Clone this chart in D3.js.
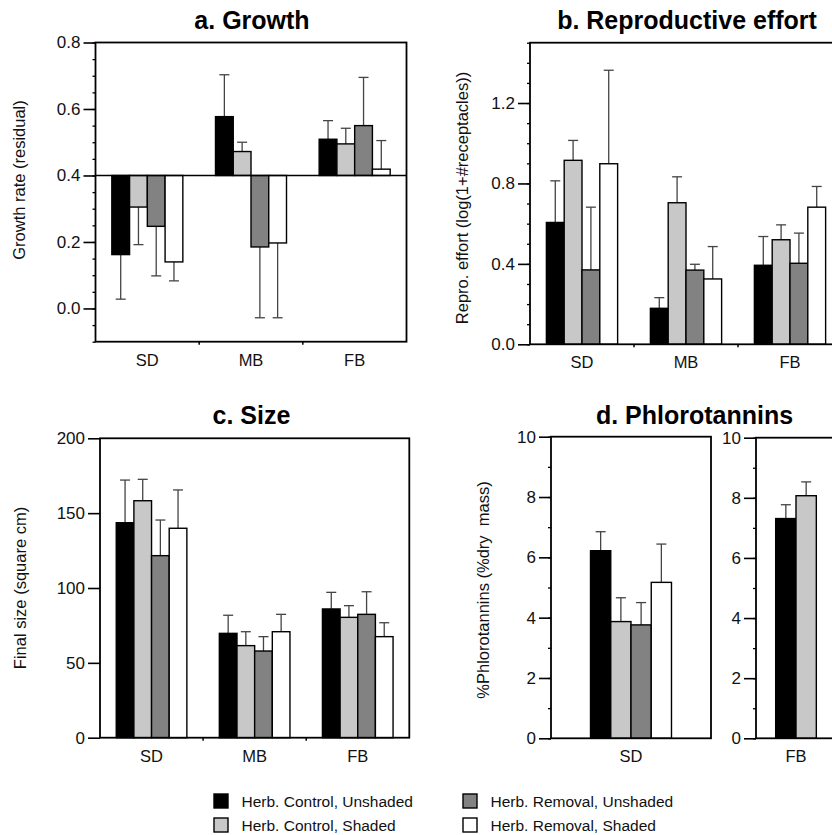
<!DOCTYPE html>
<html>
<head>
<meta charset="utf-8">
<script src="https://cdn.jsdelivr.net/npm/d3@7"></script>
<style>
  body { margin: 0; background: #fff; }
  svg { display: block; font-family: "Liberation Sans", Arial, Helvetica, sans-serif; }
</style>
</head>
<body>
<div id="chart"></div>
<script>
// treatments in legend order, and their fills
const treatments = ["Herb. Control, Unshaded", "Herb. Control, Shaded",
                    "Herb. Removal, Unshaded", "Herb. Removal, Shaded"];
const fills = ["#000000", "#c8c8c8", "#828282", "#ffffff"];
const sites = ["SD", "MB", "FB"];

// a. Growth (residual), bars hang from 0.4
const growthTicks = [0, 0.2, 0.4, 0.6, 0.8];
const growthMean = [[0.162, 0.305, 0.247, 0.140],
                    [0.577, 0.472, 0.185, 0.197],
                    [0.509, 0.495, 0.550, 0.419]];
const growthSE   = [[0.134, 0.113, 0.149, 0.057],
                    [0.126, 0.028, 0.213, 0.225],
                    [0.056, 0.047, 0.145, 0.086]];

// b. Reproductive effort
const reproTicks = [0, 0.4, 0.8, 1.2];
const reproMean = [[0.606, 0.915, 0.370, 0.898],
                   [0.179, 0.704, 0.369, 0.325],
                   [0.393, 0.520, 0.403, 0.682]];
const reproSE   = [[0.207, 0.099, 0.312, 0.465],
                   [0.053, 0.129, 0.029, 0.161],
                   [0.143, 0.074, 0.150, 0.103]];

// c. Size
const sizeTicks = [0, 50, 100, 150, 200];
const sizeMean = [[143.6, 158.3, 121.6, 139.9],
                  [69.7, 61.5, 57.9, 70.8],
                  [86.0, 80.4, 82.4, 67.5]];
const sizeSE   = [[28.5, 14.3, 23.8, 25.6],
                  [12.1, 9.3, 9.6, 11.6],
                  [11.1, 7.8, 15.1, 9.3]];

// d. Phlorotannins (SD all four treatments, FB controls only)
const phloTicks = [0, 2, 4, 6, 8, 10];
const phloSDMean = [[6.22, 3.87, 3.76, 5.17]];
const phloSDSE   = [[0.63, 0.79, 0.74, 1.27]];
const phloFBMean = [[7.31, 8.07]];
const phloFBSE   = [[0.46, 0.46]];

const W = 832, H = 835;
const svg = d3.select("#chart").append("svg")
  .attr("width", W).attr("height", H);

function panel(p) {
  const g = svg.append("g");
  const y = d3.scaleLinear().domain(p.domain).range([p.bottom, p.top]);
  const x = d3.scaleBand().domain(p.groups).range([p.left, p.right]);
  const base = p.base !== undefined ? p.base : p.domain[0];

  // minor ticks
  if (p.minor) {
    const minors = d3.range(p.domain[0], p.domain[1] + 1e-9, p.minor);
    g.append("g")
      .attr("transform", `translate(${p.left},0)`)
      .call(d3.axisLeft(y).tickValues(minors).tickSize(3).tickFormat(""))
      .call(s => s.select(".domain").remove())
      .selectAll("line").attr("stroke", "#000").attr("stroke-width", 1.3);
  }
  // major ticks
  const ax = g.append("g")
    .attr("transform", `translate(${p.left},0)`)
    .call(d3.axisLeft(y).tickValues(p.ticks).tickSize(12).tickPadding(3).tickFormat(p.fmt));
  ax.select(".domain").remove();
  ax.selectAll("line").attr("stroke", "#000").attr("stroke-width", 1.6);
  ax.selectAll("text").attr("font-size", 17).attr("fill", "#111")
    .attr("font-family", "Liberation Sans, Arial, sans-serif");

  // bars
  p.groups.forEach((grp, gi) => {
    const vals = p.mean[gi], errs = p.se[gi];
    const span = x.bandwidth() * p.frac;
    const inner = d3.scaleBand().domain(d3.range(vals.length)).range([0, span]);
    const x0 = x(grp) + (x.bandwidth() - span) / 2;
    vals.forEach((v, i) => {
      const bx = x0 + inner(i), bw = inner.bandwidth();
      const up = v >= base;
      const end = up ? v + errs[i] : v - errs[i];
      const cx = bx + bw / 2;
      g.append("line")
        .attr("x1", cx).attr("x2", cx).attr("y1", y(v)).attr("y2", y(end))
        .attr("stroke", "#444").attr("stroke-width", 1.3);
      g.append("line")
        .attr("x1", cx - 5).attr("x2", cx + 5).attr("y1", y(end)).attr("y2", y(end))
        .attr("stroke", "#444").attr("stroke-width", 1.3);
      g.append("rect")
        .attr("x", bx).attr("width", bw)
        .attr("y", y(Math.max(v, base)))
        .attr("height", Math.abs(y(v) - y(base)))
        .attr("fill", fills[i]).attr("stroke", "#000").attr("stroke-width", 1.4);
    });
    // group label
    g.append("text")
      .attr("x", x(grp) + x.bandwidth() / 2).attr("y", p.bottom + 24)
      .attr("text-anchor", "middle").attr("font-size", 16.5).attr("fill", "#111")
      .text(grp);
    // separator tick between groups
    if (gi > 0) {
      g.append("line")
        .attr("x1", x(grp)).attr("x2", x(grp))
        .attr("y1", p.bottom).attr("y2", p.bottom + 3)
        .attr("stroke", "#000").attr("stroke-width", 1.5);
    }
  });

  if (p.base !== undefined) {
    g.append("line")
      .attr("x1", p.left).attr("x2", p.right).attr("y1", y(base)).attr("y2", y(base))
      .attr("stroke", "#000").attr("stroke-width", 1.6);
  }

  // frame
  g.append("rect")
    .attr("x", p.left).attr("y", p.top)
    .attr("width", p.right - p.left).attr("height", p.bottom - p.top)
    .attr("fill", "none").attr("stroke", "#000").attr("stroke-width", 1.8);

  if (p.title) {
    g.append("text")
      .attr("x", p.titleX).attr("y", p.titleY)
      .attr("text-anchor", "middle").attr("font-size", 25).attr("font-weight", "bold")
      .text(p.title);
  }
  if (p.label) {
    g.append("text")
      .attr("transform", `translate(${p.labelX},${p.labelY}) rotate(-90)`)
      .attr("text-anchor", "middle").attr("dominant-baseline", "central")
      .attr("font-size", 16.5).attr("fill", "#111")
      .style("white-space", "pre")
      .text(p.label);
  }
}

panel({
  left: 95.5, right: 406.5, top: 42.5, bottom: 341.7,
  domain: [-0.1, 0.8], ticks: growthTicks, minor: 0.05, base: 0.4, fmt: d3.format(".1f"),
  groups: sites, mean: growthMean, se: growthSE, frac: 0.685,
  title: "a. Growth", titleX: 252, titleY: 29,
  label: "Growth rate (residual)", labelX: 19, labelY: 180
});

panel({
  left: 530, right: 842, top: 42.7, bottom: 344.3,
  domain: [0, 1.5], ticks: reproTicks, minor: 0.1, fmt: d3.format(".1f"),
  groups: sites, mean: reproMean, se: reproSE, frac: 0.685,
  title: "b. Reproductive effort", titleX: 687, titleY: 29,
  label: "Repro. effort (log(1+#receptacles))", labelX: 462, labelY: 198
});

panel({
  left: 100, right: 409.3, top: 438.3, bottom: 737.7,
  domain: [0, 200], ticks: sizeTicks, fmt: d3.format("d"),
  groups: sites, mean: sizeMean, se: sizeSE, frac: 0.685,
  title: "c. Size", titleX: 251.5, titleY: 423.5,
  label: "Final size (square cm)", labelX: 20, labelY: 588
});

panel({
  left: 551, right: 711, top: 436.7, bottom: 738.3,
  domain: [0, 10], ticks: phloTicks, minor: 1, fmt: d3.format("d"),
  groups: ["SD"], mean: phloSDMean, se: phloSDSE, frac: 0.506,
  title: "d. Phlorotannins", titleX: 694.5, titleY: 424,
  label: "%Phlorotannins (%dry  mass)", labelX: 483, labelY: 590
});

panel({
  left: 756, right: 836, top: 437.7, bottom: 738.3,
  domain: [0, 10], ticks: phloTicks, minor: 1, fmt: d3.format("d"),
  groups: ["FB"], mean: phloFBMean, se: phloFBSE, frac: 0.508
});

// legend, two columns
const legCols = [214, 463], legRows = [794, 818];
const leg = svg.append("g");
treatments.forEach((t, i) => {
  const lx = legCols[Math.floor(i / 2)], ly = legRows[i % 2];
  leg.append("rect")
    .attr("x", lx).attr("y", ly).attr("width", 14).attr("height", 14)
    .attr("fill", fills[i]).attr("stroke", "#000").attr("stroke-width", 1.4);
  leg.append("text")
    .attr("x", lx + 27.5).attr("y", ly + 13)
    .attr("font-size", 15.5).attr("fill", "#111")
    .text(t);
});
</script>
</body>
</html>
